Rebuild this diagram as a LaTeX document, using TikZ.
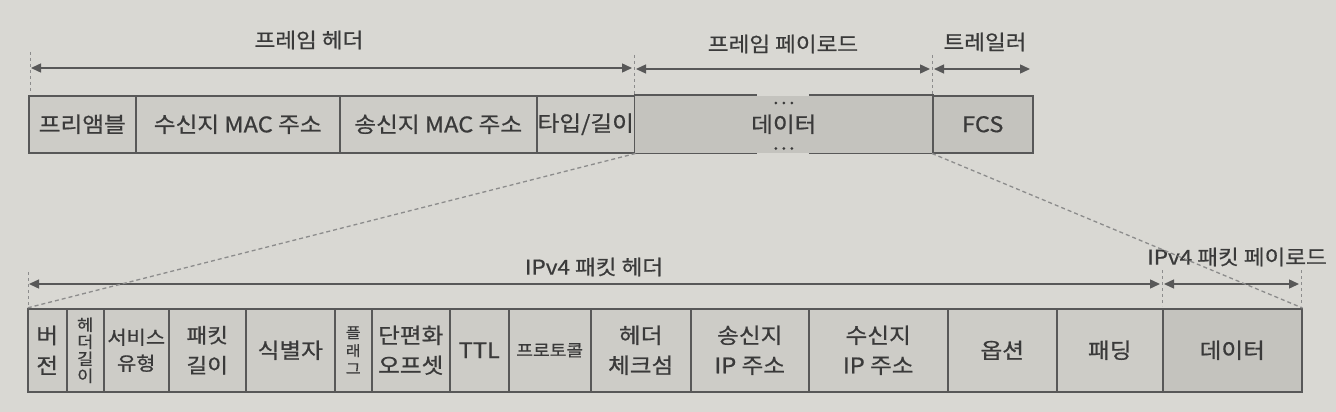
\documentclass[tikz,border=0pt]{standalone}
\usepackage{fontspec}
\setmainfont{Noto Sans CJK KR}[FakeStretch=1.1, FakeBold=0.7]
\usetikzlibrary{arrows.meta,calc}
\definecolor{paper}{HTML}{D9D8D3}
\definecolor{cellfill}{HTML}{CDCCC7}
\definecolor{cellfilld}{HTML}{C4C3BE}
\definecolor{ink}{HTML}{3A3A3A}
\definecolor{edge}{HTML}{585858}
\definecolor{guide}{HTML}{8C8C8C}
\begin{document}
\begin{tikzpicture}[x=1pt,y=-1pt,
  cell/.style={draw=edge, line width=1.5pt, fill=cellfill, text=ink, inner sep=0pt,
    align=center, anchor=north west, font=\fontsize{21.5}{30}\selectfont},
  toprow/.style={cell, minimum height=57pt},
  botrow/.style={cell, minimum height=83pt},
  darker/.style={fill=cellfilld},
  dimline/.style={draw=edge, line width=1.4pt,
    {Triangle[length=10pt,width=9pt]}-{Triangle[length=10pt,width=9pt]}},
  guideline/.style={draw=guide, line width=1pt, dash pattern=on 3pt off 3pt},
  zoomline/.style={draw=guide, line width=1.3pt, dash pattern=on 4pt off 3pt},
  lbl/.style={text=ink, font=\fontsize{20.5}{24}\selectfont, inner sep=0pt},
  dotmark/.style={fill=ink}
]
\fill[paper] (0,0) rectangle (1336,412);
\useasboundingbox (0,0) rectangle (1336,412);

% ---------- top row: Ethernet frame ----------
\node[toprow, minimum width=107pt] (pre) at (28,95) {프리앰블};
\node[toprow, minimum width=204pt] (dst) at (135,95) {수신지 MAC 주소};
\node[toprow, minimum width=197pt] (src) at (339,95) {송신지 MAC 주소};
\node[toprow, minimum width=98pt]  (typ) at (536,95) {타입/길이};
\node[toprow, darker, draw=none, minimum width=298pt] (dat) at (634,95) {데이터};
\node[toprow, darker, minimum width=100pt] (fcs) at (932,95) {FCS};
% data box borders with a break
\draw[draw=edge, line width=1.5pt] (dat.north west) -- ([xshift=-27pt]dat.north);
\draw[draw=edge, line width=1.5pt] ([xshift=25pt]dat.north) -- (dat.north east);
\draw[draw=edge, line width=1.5pt] (dat.south west) -- ([xshift=-27pt]dat.south);
\draw[draw=edge, line width=1.5pt] ([xshift=25pt]dat.south) -- (dat.south east);
\foreach \dx in {-8,0,8} {
  \fill[dotmark] ([xshift=\dx pt, yshift=-1pt]dat.north) ++(0,7) circle (1.5pt);
  \fill[dotmark] ([xshift=\dx pt]dat.south) ++(0,-5) circle (1.5pt);
}

% guide lines (top)
\coordinate (g1t) at (30,52);  \coordinate (g1b) at (30,93);
\coordinate (g2t) at (634,55); \coordinate (g2b) at (634,95);
\coordinate (g3t) at (932,55); \coordinate (g3b) at (932,95);
\draw[guideline] (g1t) -- (g1b);
\draw[guideline] (g2t) -- (g2b);
\draw[guideline] (g3t) -- (g3b);

% dimension arrows (top)
\coordinate (fhL) at (31,68);  \coordinate (fhR) at (632,68);
\coordinate (fpL) at (636,69); \coordinate (fpR) at (930,69);
\coordinate (trL) at (934,69); \coordinate (trR) at (1030,69);
\draw[dimline] (fhL) -- (fhR);
\draw[dimline] (fpL) -- (fpR);
\draw[dimline] (trL) -- (trR);
\node[lbl] (fhlbl) at (309,40) {프레임 헤더};
\node[lbl] (fplbl) at (783,44) {프레임 페이로드};
\node[lbl] (trlbl) at (985,42) {트레일러};

% ---------- bottom row: IPv4 packet ----------
\node[botrow, minimum width=39pt]  (ver)   at (27,308)   {버\\전};
\node[botrow, minimum width=37pt, font=\fontsize{16}{17}\selectfont] (ihl) at (66,308) {헤\\더\\길\\이};
\node[botrow, minimum width=65pt, font=\fontsize{19}{26}\selectfont] (tos) at (103,308) {서비스\\유형};
\node[botrow, minimum width=77pt, font=\fontsize{20.5}{30}\selectfont]  (tlen)  at (168,308)  {패킷\\길이};
\node[botrow, minimum width=89pt]  (ident) at (245,308)  {식별자};
\node[botrow, minimum width=37pt, font=\fontsize{14.5}{18}\selectfont] (flag) at (334,308) {플\\래\\그};
\node[botrow, minimum width=78pt]  (frag)  at (371,308)  {단편화\\오프셋};
\node[botrow, minimum width=59pt]  (ttl)   at (449,308)  {TTL};
\node[botrow, minimum width=82pt, font=\fontsize{16.5}{20}\selectfont] (proto) at (508,308) {프로토콜};
\node[botrow, minimum width=100pt] (csum)  at (590,308)  {헤더\\체크섬};
\node[botrow, minimum width=118pt] (sip)   at (690,308)  {송신지\\IP 주소};
\node[botrow, minimum width=139pt] (dip)   at (808,308)  {수신지\\IP 주소};
\node[botrow, minimum width=109pt] (opt)   at (947,308)  {옵션};
\node[botrow, minimum width=106pt] (pad)   at (1056,308) {패딩};
\node[botrow, darker, minimum width=139pt] (pdat) at (1162,308) {데이터};

% guide lines (bottom)
\coordinate (h1t) at (28,272);   \coordinate (h1b) at (28,306);
\coordinate (h2t) at (1162,270); \coordinate (h2b) at (1162,306);
\coordinate (h3t) at (1301,270); \coordinate (h3b) at (1301,306);
\draw[guideline] (h1t) -- (h1b);
\draw[guideline] (h2t) -- (h2b);
\draw[guideline] (h3t) -- (h3b);

% dimension arrows (bottom)
\coordinate (ihL) at (29,284);   \coordinate (ihR) at (1160,284);
\coordinate (ipL) at (1164,284); \coordinate (ipR) at (1299,284);
\draw[dimline] (ihL) -- (ihR);
\draw[dimline] (ipL) -- (ipR);
\node[lbl] (ihlbl) at (594,267) {IPv4 패킷 헤더};
\node[lbl] (iplbl) at (1237,257) {IPv4 패킷 페이로드};

% zoom lines from frame to packet
\draw[zoomline] (typ.south east) -- (ver.north west);
\draw[zoomline] (fcs.south west) -- (pdat.north east);
\end{tikzpicture}
\end{document}
